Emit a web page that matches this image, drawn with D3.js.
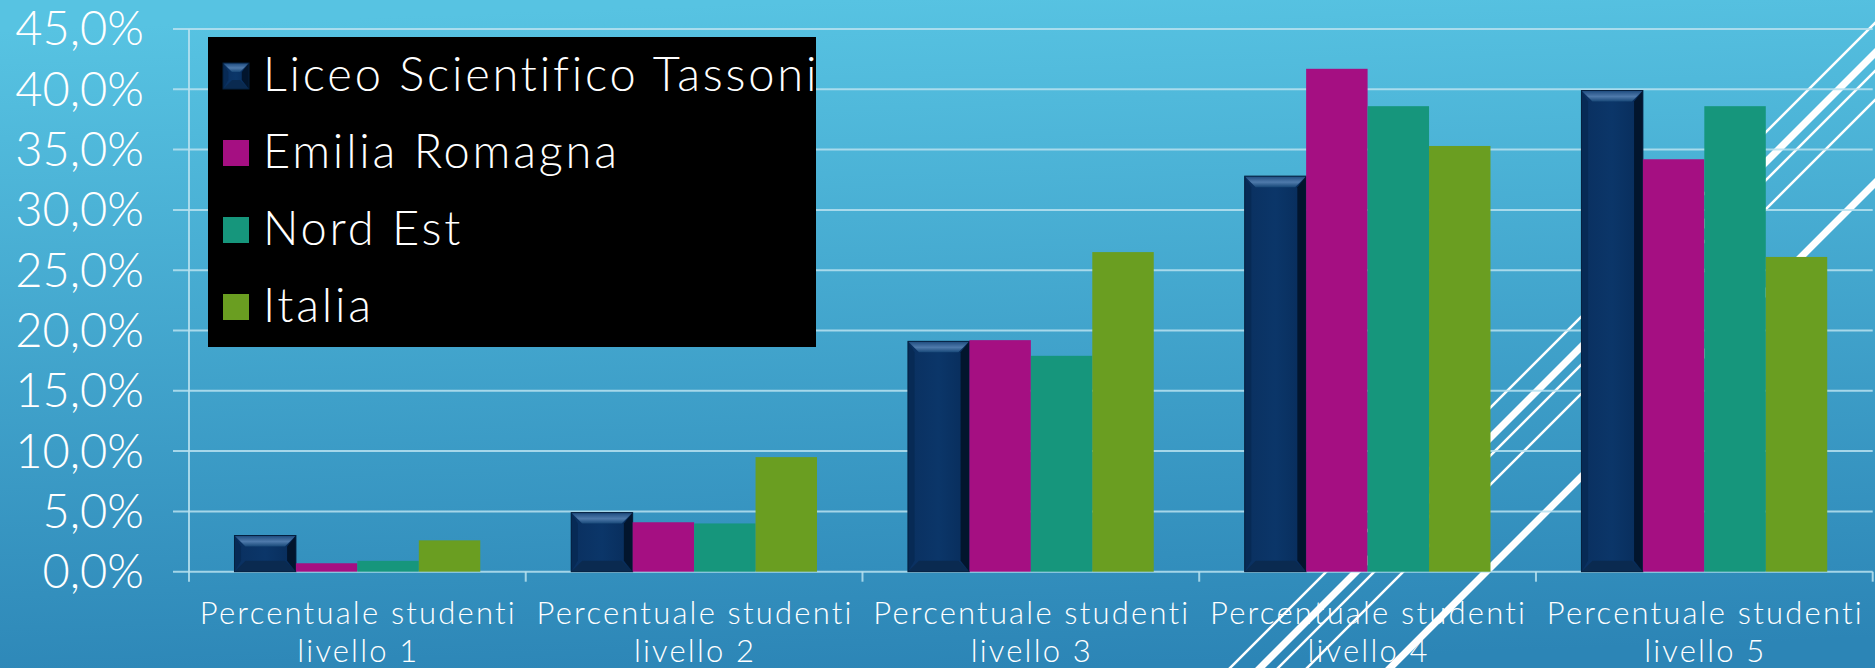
<!DOCTYPE html>
<html>
<head>
<meta charset="utf-8">
<script src="https://cdn.jsdelivr.net/npm/d3@7"></script>
<style>
  body { margin: 0; background: #3a9dcb; }
  svg { display: block; }
  text { font-family: "Lato", "Open Sans", sans-serif; fill: #fff; font-variant-ligatures: none; }
</style>
</head>
<body>
<div id="chart"></div>
<script>
const categories = [
  "Percentuale studenti livello 1",
  "Percentuale studenti livello 2",
  "Percentuale studenti livello 3",
  "Percentuale studenti livello 4",
  "Percentuale studenti livello 5"
];
const seriesNames = ["Liceo Scientifico Tassoni", "Emilia Romagna", "Nord Est", "Italia"];
const tassoni = [0.030, 0.049, 0.191, 0.328, 0.399];
const emiliaRomagna = [0.007, 0.041, 0.192, 0.417, 0.342];
const nordEst = [0.009, 0.040, 0.179, 0.386, 0.386];
const italia = [0.026, 0.095, 0.265, 0.353, 0.261];
const yTicks = [0, 0.05, 0.10, 0.15, 0.20, 0.25, 0.30, 0.35, 0.40, 0.45];
const colors = ["#0b3567", "#a50f82", "#16967c", "#6a9e21"];

const seriesValues = [tassoni, emiliaRomagna, nordEst, italia];
const rows = categories.map((c, i) => ({
  category: c,
  values: seriesNames.map((s, j) => ({ series: s, value: seriesValues[j][i], idx: j }))
}));

const W = 1875, H = 668;
const margin = {top: 29, right: 2.3, bottom: 96.3, left: 189};
const width = W - margin.left - margin.right;
const height = H - margin.top - margin.bottom;

const itFormat = d3.formatLocale({decimal: ",", thousands: ".", grouping: [3], currency: ["", "€"]}).format(".1%");

const svg = d3.select("#chart").append("svg")
  .attr("width", W)
  .attr("height", H);

const defs = svg.append("defs");
const bg = defs.append("linearGradient").attr("id", "bg")
  .attr("x1", "0.55").attr("y1", "1").attr("x2", "0.45").attr("y2", "0");
bg.append("stop").attr("offset", "0%").attr("stop-color", "#2c85b6");
bg.append("stop").attr("offset", "100%").attr("stop-color", "#57c3e2");

const bevelTop = defs.append("linearGradient").attr("id", "bevelTop")
  .attr("x1", 0).attr("y1", 0).attr("x2", 0).attr("y2", 1);
bevelTop.append("stop").attr("offset", "0%").attr("stop-color", "#1d4a7d");
bevelTop.append("stop").attr("offset", "55%").attr("stop-color", "#4f7aab");
bevelTop.append("stop").attr("offset", "100%").attr("stop-color", "#184878");

const face = defs.append("linearGradient").attr("id", "face")
  .attr("x1", 0).attr("y1", 0).attr("x2", 1).attr("y2", 0);
face.append("stop").attr("offset", "0%").attr("stop-color", "#0a3060");
face.append("stop").attr("offset", "50%").attr("stop-color", "#0b3669");
face.append("stop").attr("offset", "100%").attr("stop-color", "#082c5a");

svg.append("rect").attr("width", W).attr("height", H).attr("fill", "url(#bg)");

// decorative slide stripes (45 degrees, running up to the right edge)
const stripes = [
  {x0: 1220, w: 2.5}, {x0: 1250, w: 7}, {x0: 1268, w: 2.5}, {x0: 1297, w: 2.5}, {x0: 1380, w: 7}
];
svg.selectAll(".stripe")
  .data(stripes)
  .enter()
  .append("line")
  .attr("x1", (d) => d.x0)
  .attr("y1", H + 10)
  .attr("x2", (d) => d.x0 + H + 10)
  .attr("y2", 0)
  .attr("stroke", "#fff")
  .attr("stroke-width", (d) => d.w);

const g = svg.append("g")
  .attr("transform", "translate(" + margin.left + "," + margin.top + ")");

const x0 = d3.scaleBand().domain(categories).range([0, width]).padding(0);
const x1 = d3.scaleBand().domain(seriesNames).range([0, x0.bandwidth()])
  .paddingInner(0).paddingOuter(0.74);
const y = d3.scaleLinear().domain([0, 0.45]).range([height, 0]);

// gridlines
g.selectAll(".grid")
  .data(yTicks)
  .enter()
  .append("line")
  .attr("x1", -16)
  .attr("x2", width)
  .attr("y1", (d) => y(d))
  .attr("y2", (d) => y(d))
  .attr("stroke", "#b9e2f0")
  .attr("stroke-opacity", 0.85)
  .attr("stroke-width", 2);

// y axis line + category ticks
g.append("line")
  .attr("x1", 0).attr("x2", 0)
  .attr("y1", y(0.45)).attr("y2", height + 10)
  .attr("stroke", "#b9e2f0").attr("stroke-opacity", 0.85).attr("stroke-width", 2);

const tickPos = categories.map((c) => x0(c)).concat([width]);
g.selectAll(".ctick")
  .data(tickPos.slice(1))
  .enter()
  .append("line")
  .attr("x1", (d) => d).attr("x2", (d) => d)
  .attr("y1", height).attr("y2", height + 10)
  .attr("stroke", "#b9e2f0").attr("stroke-opacity", 0.85).attr("stroke-width", 2);

// y labels
g.selectAll(".ylab")
  .data(yTicks)
  .enter()
  .append("text")
  .attr("x", -45)
  .attr("y", (d) => y(d))
  .attr("dy", "0.35em")
  .attr("text-anchor", "end")
  .style("font-size", "47px")
  .style("font-weight", 300)
  .text((d) => itFormat(d));

// x labels
const xl = g.selectAll(".xlab")
  .data(categories)
  .enter()
  .append("text")
  .attr("text-anchor", "middle")
  .attr("transform", (d) => "translate(" + (x0(d) + x0.bandwidth() / 2 + 1) + "," + (height + 52) + ")")
  .style("font-size", "31px")
  .style("font-weight", 300)
  .style("letter-spacing", "2.2px");
xl.append("tspan").attr("x", 0).attr("y", 0).text((d) => d.split(" ").slice(0, 2).join(" "));
xl.append("tspan").attr("x", 0).attr("y", 38).text((d) => d.split(" ").slice(2).join(" "));

function bevel(sel, x, yy, w, h, b) {
  b = Math.min(b, h / 2, w / 2);
  sel.append("rect").attr("x", x).attr("y", yy).attr("width", w).attr("height", h).attr("fill", "url(#face)");
  const pts = (arr) => arr.map((p) => p.join(",")).join(" ");
  sel.append("polygon").attr("points", pts([[x, yy], [x + w, yy], [x + w - b, yy + b], [x + b, yy + b]]))
    .attr("fill", "url(#bevelTop)");
  sel.append("polygon").attr("points", pts([[x, yy + h], [x + w, yy + h], [x + w - b, yy + h - b], [x + b, yy + h - b]]))
    .attr("fill", "#0a2a50");
  sel.append("polygon").attr("points", pts([[x, yy], [x + b * 0.6, yy + b], [x + b * 0.6, yy + h - b], [x, yy + h]]))
    .attr("fill", "#072a55");
  sel.append("polygon").attr("points", pts([[x + w, yy], [x + w - b * 0.8, yy + b], [x + w - b * 0.8, yy + h - b], [x + w, yy + h]]))
    .attr("fill", "#02152d");
  sel.append("rect").attr("x", x).attr("y", yy).attr("width", w).attr("height", h)
    .attr("fill", "none").attr("stroke", "#05203f").attr("stroke-width", 1);
}

// bars
const groups = g.selectAll(".grp")
  .data(rows)
  .enter()
  .append("g")
  .attr("transform", (d) => "translate(" + x0(d.category) + ",0)");

groups.selectAll(".bar")
  .data((d) => d.values)
  .enter()
  .append("g")
  .each(function(d) {
    const sel = d3.select(this);
    const bx = x1(d.series), by = y(d.value), bw = x1.bandwidth(), bh = height - y(d.value);
    if (d.idx === 0) {
      bevel(sel, bx, by, bw, bh, 11);
    } else {
      sel.append("rect").attr("x", bx).attr("y", by).attr("width", bw).attr("height", bh)
        .attr("fill", colors[d.idx]);
    }
  });

// legend
const legend = svg.append("g").attr("transform", "translate(208,37)");
legend.append("rect").attr("width", 608).attr("height", 310).attr("fill", "#000");

const items = legend.selectAll(".legend")
  .data(seriesNames)
  .enter()
  .append("g")
  .attr("transform", (d, i) => "translate(15," + (26 + i * 77) + ")");

items.each(function(d, i) {
  const sel = d3.select(this);
  if (i === 0) {
    bevel(sel, 0, 0, 26, 26, 9);
  } else {
    sel.append("rect").attr("width", 26).attr("height", 26).attr("fill", colors[i]);
  }
});

items.append("text")
  .attr("x", 40)
  .attr("y", 28)
  .style("font-size", "47px")
  .style("font-weight", 300)
  .style("letter-spacing", "2.8px")
  .text((d) => d);
</script>
</body>
</html>
